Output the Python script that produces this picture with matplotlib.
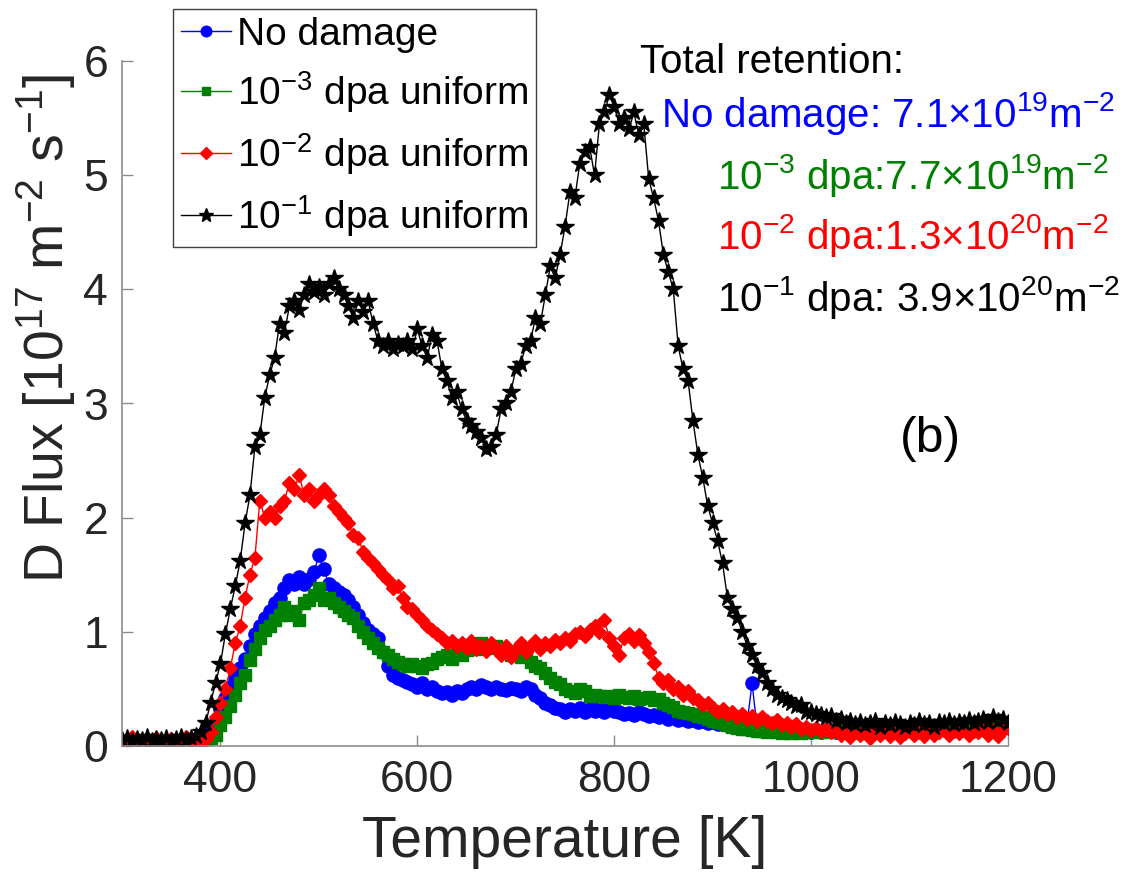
import numpy as np
import matplotlib
matplotlib.use("Agg")
import matplotlib.pyplot as plt

plt.rcParams['font.family'] = ['Liberation Sans', 'DejaVu Sans']
plt.rcParams['mathtext.fontset'] = 'custom'
plt.rcParams['mathtext.rm'] = 'Liberation Sans'
plt.rcParams['mathtext.it'] = 'Liberation Sans:italic'
plt.rcParams['mathtext.bf'] = 'Liberation Sans:bold'

# temperature grid [K]
temperature = list(range(300, 1201, 5))

# D flux [1e17 m^-2 s^-1]
flux_no_damage = [
    0.03, 0.04, 0.02, 0.04, 0.03, 0.04, 0.02, 0.03, 0.04, 0.02,
    0.03, 0.04, 0.03, 0.02, 0.04, 0.03, 0.06, 0.10, 0.15, 0.22,
    0.32, 0.42, 0.52, 0.60, 0.68, 0.76, 0.88, 0.98, 1.05, 1.12,
    1.18, 1.25, 1.30, 1.38, 1.45, 1.42, 1.48, 1.42, 1.46, 1.52,
    1.67, 1.55, 1.42, 1.38, 1.35, 1.32, 1.28, 1.22, 1.15, 1.08,
    1.02, 0.98, 0.95, 0.82, 0.70, 0.62, 0.60, 0.58, 0.56, 0.54,
    0.52, 0.55, 0.50, 0.52, 0.48, 0.46, 0.47, 0.45, 0.48, 0.46,
    0.50, 0.52, 0.50, 0.53, 0.52, 0.50, 0.52, 0.50, 0.49, 0.51,
    0.50, 0.48, 0.52, 0.50, 0.45, 0.42, 0.38, 0.36, 0.33, 0.32,
    0.30, 0.32, 0.31, 0.33, 0.30, 0.32, 0.31, 0.33, 0.30, 0.32,
    0.31, 0.30, 0.28, 0.29, 0.27, 0.30, 0.28, 0.26, 0.27, 0.25,
    0.26, 0.24, 0.25, 0.23, 0.24, 0.22, 0.23, 0.21, 0.22, 0.20,
    0.21, 0.19, 0.20, 0.18, 0.19, 0.17, 0.18, 0.20, 0.55, 0.17,
    0.16, 0.17, 0.15, 0.16, 0.14, 0.15, 0.13, 0.14, 0.12, 0.13,
    0.12, 0.13, 0.12, 0.14, 0.13, 0.12, 0.14, 0.13, 0.15, 0.14,
    0.13, 0.15, 0.14, 0.16, 0.15, 0.14, 0.16, 0.15, 0.17, 0.16,
    0.15, 0.17, 0.16, 0.18, 0.17, 0.16, 0.18, 0.17, 0.19, 0.18,
    0.17, 0.19, 0.18, 0.20, 0.19, 0.18, 0.20, 0.19, 0.21, 0.20,
    0.20,
]

flux_1e3 = [
    0.04, 0.05, 0.03, 0.05, 0.04, 0.05, 0.03, 0.04, 0.05, 0.03,
    0.04, 0.05, 0.03, 0.04, 0.05, 0.04, 0.05, 0.06, 0.07, 0.10,
    0.18, 0.25, 0.35, 0.45, 0.55, 0.62, 0.75, 0.85, 0.95, 1.02,
    1.05, 1.10, 1.15, 1.22, 1.15, 1.18, 1.10, 1.25, 1.28, 1.32,
    1.38, 1.28, 1.30, 1.25, 1.22, 1.18, 1.15, 1.12, 1.05, 1.00,
    0.95, 0.90, 0.86, 0.82, 0.80, 0.76, 0.74, 0.72, 0.70, 0.72,
    0.70, 0.68, 0.72, 0.73, 0.76, 0.78, 0.80, 0.76, 0.82, 0.80,
    0.84, 0.86, 0.85, 0.90, 0.88, 0.86, 0.88, 0.84, 0.82, 0.80,
    0.80, 0.78, 0.80, 0.74, 0.70, 0.68, 0.64, 0.60, 0.56, 0.54,
    0.50, 0.48, 0.46, 0.50, 0.48, 0.44, 0.45, 0.44, 0.43, 0.44,
    0.42, 0.45, 0.43, 0.42, 0.44, 0.41, 0.42, 0.43, 0.40, 0.41,
    0.38, 0.36, 0.34, 0.31, 0.30, 0.29, 0.28, 0.26, 0.25, 0.24,
    0.22, 0.21, 0.20, 0.18, 0.17, 0.16, 0.15, 0.15, 0.14, 0.13,
    0.13, 0.12, 0.13, 0.12, 0.11, 0.12, 0.11, 0.12, 0.11, 0.12,
    0.12, 0.13, 0.12, 0.13, 0.12, 0.13, 0.14, 0.13, 0.14, 0.13,
    0.14, 0.15, 0.14, 0.15, 0.14, 0.15, 0.16, 0.15, 0.16, 0.15,
    0.16, 0.17, 0.16, 0.17, 0.16, 0.17, 0.18, 0.17, 0.18, 0.17,
    0.18, 0.19, 0.18, 0.19, 0.18, 0.19, 0.20, 0.19, 0.20, 0.19,
    0.20,
]

flux_1e2 = [
    0.05, 0.03, 0.08, 0.04, 0.00, 0.06, 0.03, 0.07, 0.04, 0.02,
    0.06, 0.03, 0.05, 0.08, 0.02, 0.04, 0.03, 0.06, 0.12, 0.25,
    0.38, 0.50, 0.68, 0.90, 1.05, 1.30, 1.50, 1.65, 2.15, 2.00,
    2.05, 2.00, 2.10, 2.15, 2.30, 2.25, 2.37, 2.20, 2.25, 2.15,
    2.20, 2.25, 2.20, 2.10, 2.05, 2.00, 1.95, 1.85, 1.82, 1.70,
    1.65, 1.60, 1.55, 1.50, 1.45, 1.38, 1.40, 1.30, 1.22, 1.20,
    1.15, 1.10, 1.05, 1.02, 0.98, 0.95, 0.90, 0.92, 0.88, 0.90,
    0.86, 0.92, 0.85, 0.88, 0.83, 0.90, 0.86, 0.80, 0.88, 0.78,
    0.85, 0.90, 0.82, 0.88, 0.92, 0.85, 0.90, 0.88, 0.93, 0.90,
    0.95, 0.92, 0.98, 1.00, 0.96, 1.02, 1.05, 1.00, 1.10, 0.95,
    0.88, 0.80, 0.95, 0.98, 0.92, 0.97, 0.90, 0.82, 0.73, 0.60,
    0.55, 0.58, 0.50, 0.52, 0.45, 0.48, 0.42, 0.40, 0.36, 0.38,
    0.33, 0.30, 0.32, 0.28, 0.30, 0.25, 0.28, 0.24, 0.26, 0.22,
    0.25, 0.22, 0.20, 0.23, 0.18, 0.20, 0.17, 0.19, 0.15, 0.17,
    0.14, 0.16, 0.13, 0.15, 0.12, 0.14, 0.10, 0.13, 0.08, 0.12,
    0.10, 0.14, 0.07, 0.12, 0.10, 0.13, 0.09, 0.12, 0.08, 0.11,
    0.13, 0.10, 0.12, 0.09, 0.13, 0.10, 0.12, 0.14, 0.10, 0.13,
    0.11, 0.14, 0.10, 0.13, 0.12, 0.15, 0.10, 0.13, 0.09, 0.14,
    0.16,
]

flux_1e1 = [
    0.05, 0.07, 0.04, 0.06, 0.05, 0.08, 0.04, 0.06, 0.05, 0.07,
    0.04, 0.06, 0.08, 0.05, 0.07, 0.09, 0.12, 0.20, 0.38, 0.55,
    0.72, 0.98, 1.20, 1.40, 1.62, 1.95, 2.20, 2.62, 2.72, 3.05,
    3.25, 3.40, 3.70, 3.62, 3.85, 3.90, 3.82, 3.95, 4.05, 3.98,
    4.02, 3.95, 4.05, 4.10, 4.00, 3.95, 3.85, 3.75, 3.90, 3.80,
    3.90, 3.70, 3.55, 3.50, 3.55, 3.48, 3.52, 3.50, 3.55, 3.48,
    3.65, 3.50, 3.40, 3.60, 3.55, 3.30, 3.20, 3.05, 3.10, 2.95,
    2.85, 2.80, 2.75, 2.70, 2.60, 2.62, 2.72, 2.95, 3.00, 3.10,
    3.30, 3.35, 3.50, 3.55, 3.75, 3.70, 3.95, 4.20, 4.10, 4.30,
    4.55, 4.85, 4.80, 5.10, 5.20, 5.25, 5.00, 5.45, 5.55, 5.70,
    5.60, 5.45, 5.50, 5.40, 5.55, 5.35, 5.45, 4.97, 4.80, 4.60,
    4.30, 4.15, 4.00, 3.50, 3.30, 3.20, 2.85, 2.55, 2.35, 2.10,
    1.95, 1.80, 1.60, 1.30, 1.20, 1.12, 1.00, 0.88, 0.80, 0.70,
    0.64, 0.55, 0.50, 0.45, 0.42, 0.40, 0.38, 0.35, 0.36, 0.30,
    0.30, 0.28, 0.27, 0.25, 0.26, 0.22, 0.24, 0.20, 0.22, 0.19,
    0.21, 0.18, 0.20, 0.22, 0.17, 0.20, 0.18, 0.21, 0.19, 0.17,
    0.20, 0.18, 0.22, 0.19, 0.20, 0.17, 0.21, 0.20, 0.22, 0.19,
    0.21, 0.20, 0.23, 0.20, 0.22, 0.24, 0.21, 0.25, 0.22, 0.24,
    0.20,
]

series_labels = ['No damage', r'10$^{-3}$ dpa uniform',
                 r'10$^{-2}$ dpa uniform', r'10$^{-1}$ dpa uniform']
series_colors = ['#0000ff', '#008000', '#ff0000', '#000000']

retention_title = 'Total retention:'
retention_lines = [
    r'No damage: 7.1$\times$10$^{19}$m$^{-2}$',
    r'10$^{-3}$ dpa:7.7$\times$10$^{19}$m$^{-2}$',
    r'10$^{-2}$ dpa:1.3$\times$10$^{20}$m$^{-2}$',
    r'10$^{-1}$ dpa: 3.9$\times$10$^{20}$m$^{-2}$',
]

W, H = 1126, 880
fig = plt.figure(figsize=(W / 100, H / 100), dpi=100)
ax = fig.add_axes([122 / W, 1 - 746 / H, (1008 - 122) / W, (746 - 61) / H])

styles = [
    dict(marker='o', markersize=9.5),
    dict(marker='s', markersize=8),
    dict(marker='D', markersize=7.5),
    dict(marker='*', markersize=13),
]
all_flux = [flux_no_damage, flux_1e3, flux_1e2, flux_1e1]
for y, lab, col, st in zip(all_flux, series_labels, series_colors, styles):
    ax.plot(temperature, y, color=col, lw=1.0, label=lab,
            markerfacecolor=col, markeredgecolor=col, **st)

ax.set_xlim(300, 1200)
ax.set_ylim(0, 6)
ax.set_xticks([400, 600, 800, 1000, 1200])
ax.set_yticks([0, 1, 2, 3, 4, 5, 6])

for side in ['top', 'right']:
    ax.spines[side].set_visible(False)
for side in ['left', 'bottom']:
    ax.spines[side].set_color('#8c8c8c')
    ax.spines[side].set_linewidth(1.2)
ax.tick_params(direction='in', length=8, width=1, color='#8c8c8c',
               labelsize=32, labelcolor='#262626', pad=10)

ax.set_xlabel('Temperature [K]', fontsize=41, color='#262626', labelpad=10)
ax.set_ylabel(r'D Flux [10$^{17}$ m$^{-2}$ s$^{-1}$]', fontsize=40, color='#262626')
ax.yaxis.set_label_coords(-0.05, 0.61)

leg = ax.legend(loc='upper left', bbox_to_anchor=(173 / W, 1 - 9 / H),
                bbox_transform=fig.transFigure, borderaxespad=0,
                fontsize=28, frameon=True, fancybox=False, framealpha=1,
                edgecolor='#404040', handlelength=1.3, handletextpad=0.15,
                borderpad=0.2, labelspacing=0.42, markerscale=0.8)
leg.get_frame().set_linewidth(1.0)

# retention annotations (figure pixel positions, baseline anchored)
fig.text(640 / W, 1 - 73 / H, retention_title, fontsize=29, color='black',
         ha='left', va='baseline')
text_x = [661, 717, 717, 717]
text_y = [127, 189, 249, 311]
for s, col, tx, ty in zip(retention_lines, series_colors, text_x, text_y):
    fig.text(tx / W, 1 - ty / H, s, fontsize=29, color=col,
             ha='left', va='baseline')

fig.text(900 / W, 1 - 452 / H, '(b)', fontsize=36, color='black',
         ha='left', va='baseline')

fig.savefig('out.png', dpi=100)
